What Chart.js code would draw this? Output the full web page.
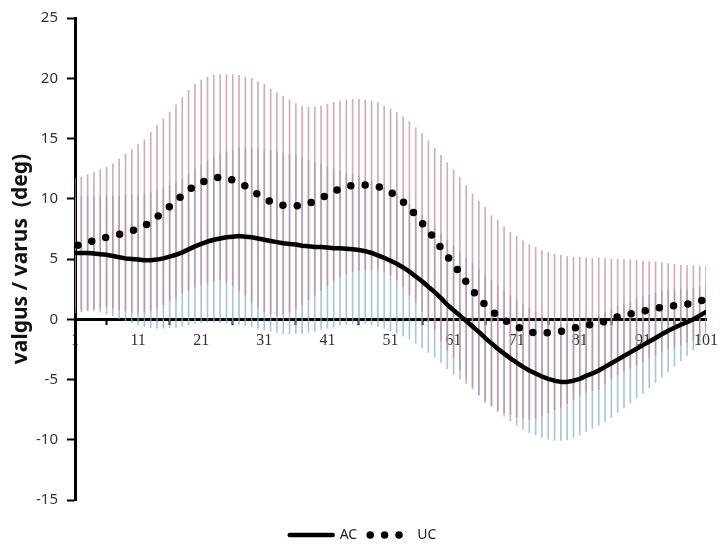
<!DOCTYPE html>
<html>
<head>
<meta charset="utf-8">
<script src="https://cdn.jsdelivr.net/npm/chart.js@4.4.1/dist/chart.umd.min.js"></script>
<style>
  html, body { margin: 0; padding: 0; background: #fff; }
  #caixa { width: 726px; height: 549px; position: relative; }
</style>
</head>
<body>
<div id="caixa"><canvas id="grafico"></canvas></div>
<script>
// % do ciclo (1..101)
const quadros = [];
for (let i = 1; i <= 101; i++) quadros.push(i);

const xTicks = [1, 11, 21, 31, 41, 51, 61, 71, 81, 91, 101];

// AC - media e desvio padrao (graus)
const acMedia = [5.5,5.5,5.5,5.45,5.4,5.35,5.25,5.15,5.05,5.0,
    4.95,4.9,4.9,4.95,5.05,5.2,5.35,5.55,5.8,6.05,
    6.25,6.45,6.6,6.7,6.8,6.85,6.9,6.85,6.8,6.7,
    6.6,6.5,6.4,6.3,6.25,6.2,6.1,6.05,6.0,6.0,
    5.95,5.9,5.9,5.85,5.8,5.75,5.65,5.5,5.3,5.1,
    4.85,4.6,4.3,3.95,3.55,3.15,2.7,2.25,1.75,1.2,
    0.75,0.3,-0.15,-0.6,-1.05,-1.55,-2.0,-2.45,-2.85,-3.25,
    -3.6,-3.95,-4.25,-4.5,-4.75,-4.95,-5.1,-5.2,-5.2,-5.1,
    -4.95,-4.7,-4.5,-4.25,-3.95,-3.65,-3.35,-3.05,-2.75,-2.45,
    -2.15,-1.85,-1.55,-1.25,-0.95,-0.7,-0.45,-0.25,0.0,0.3,
    0.6];
const acDP = [4.6,4.65,4.7,4.75,4.8,4.9,5.0,5.1,5.2,5.3,
    5.4,5.5,5.6,5.7,5.8,5.9,6.0,6.1,6.25,6.4,
    6.55,6.7,6.85,7.0,7.1,7.2,7.3,7.35,7.4,7.45,
    7.5,7.5,7.5,7.5,7.45,7.4,7.3,7.15,7.0,6.85,
    6.7,6.55,6.4,6.3,6.2,6.1,6.0,5.95,5.9,5.85,
    5.8,5.75,5.7,5.6,5.55,5.5,5.45,5.4,5.35,5.3,
    5.3,5.25,5.2,5.2,5.2,5.2,5.2,5.2,5.2,5.2,
    5.2,5.2,5.15,5.1,5.05,5.0,4.95,4.85,4.8,4.7,
    4.65,4.6,4.55,4.55,4.55,4.5,4.4,4.3,4.2,4.1,
    4.0,3.85,3.7,3.55,3.4,3.2,3.0,2.75,2.55,2.35,
    2.2];

// UC - media e desvio padrao (graus)
const ucMedia = [6.1,6.2,6.35,6.55,6.65,6.8,6.9,7.05,7.2,7.35,
    7.5,7.75,8.1,8.5,8.9,9.35,9.8,10.3,10.7,11.1,
    11.35,11.55,11.7,11.8,11.7,11.55,11.3,11.05,10.7,10.35,
    10.05,9.75,9.55,9.45,9.4,9.4,9.45,9.6,9.8,10.05,
    10.3,10.6,10.85,11.0,11.1,11.15,11.15,11.1,11.0,10.85,
    10.55,10.2,9.75,9.2,8.65,8.0,7.3,6.7,5.9,5.2,
    4.6,3.8,3.1,2.4,1.75,1.2,0.7,0.3,-0.05,-0.35,
    -0.6,-0.85,-1.05,-1.12,-1.15,-1.12,-1.05,-1.0,-0.9,-0.75,
    -0.6,-0.5,-0.42,-0.35,-0.15,0.05,0.2,0.3,0.45,0.55,
    0.65,0.78,0.9,1.0,1.07,1.12,1.18,1.25,1.35,1.5,
    1.7];
const ucDP = [5.6,5.6,5.65,5.65,5.75,5.8,6.0,6.25,6.5,6.75,
    7.0,7.15,7.4,7.6,7.7,7.85,8.0,8.1,8.3,8.4,
    8.5,8.55,8.55,8.5,8.6,8.75,8.95,9.05,9.3,9.35,
    9.45,9.35,9.25,9.05,8.8,8.5,8.25,8.0,7.8,7.65,
    7.55,7.4,7.25,7.2,7.15,7.1,7.05,7.0,6.95,6.85,
    6.9,6.95,7.05,7.2,7.25,7.4,7.5,7.5,7.7,7.8,
    7.8,8.0,8.0,8.0,8.05,8.1,7.9,7.9,7.75,7.55,
    7.5,7.35,7.25,7.1,6.85,6.65,6.45,6.3,6.1,5.9,
    5.75,5.6,5.5,5.45,5.2,4.95,4.8,4.65,4.5,4.35,
    4.2,4.0,3.85,3.7,3.55,3.45,3.3,3.2,3.1,2.9,
    2.7];

function pontos(media) {
    return quadros.map((q, i) => ({ x: q, y: media[i] }));
}

function barrasErro(media, dp) {
    return quadros.map((q, i) => ({ x: q, y: [media[i] - dp[i], media[i] + dp[i]] }));
}

// empurra a legenda um pouco para a direita, como no original
const legendaDeslocada = {
    id: 'legendaDeslocada',
    afterLayout(chart) {
        chart.legend.left += 10;
        chart.legend.right += 10;
    }
};

// so AC e UC na legenda, com o tracejado da linha
function itensLegenda(chart) {
    const itens = Chart.defaults.plugins.legend.labels.generateLabels(chart);
    return itens.filter((it) => it.datasetIndex < 2).map((it) => {
        const ds = chart.data.datasets[it.datasetIndex];
        it.lineDash = ds.borderDash || [];
        it.lineDashOffset = ds.borderDashOffset || 0;
        it.lineCap = ds.borderCapStyle || 'butt';
        it.lineWidth = ds.borderWidth;
        return it;
    });
}

function criarGrafico(canvasID) {
    return new Chart(document.getElementById(canvasID), {
        type: 'line',
        plugins: [legendaDeslocada],
        data: {
            datasets: [
                { label: 'AC', data: pontos(acMedia), borderColor: '#000', backgroundColor: '#000',
                  borderWidth: 4.5, borderCapStyle: 'round', borderJoinStyle: 'round',
                  pointRadius: 0, pointStyle: 'line' },
                { label: 'UC', data: pontos(ucMedia), borderColor: '#000', backgroundColor: '#000',
                  borderWidth: 7.5, borderDash: [0, 14.4], borderDashOffset: 11.4, borderCapStyle: 'round',
                  pointRadius: 0, pointStyle: 'line' },
                { type: 'bar', label: 'UC dp', data: barrasErro(ucMedia, ucDP),
                  backgroundColor: 'rgba(195,135,155,0.7)', barThickness: 1, grouped: false },
                { type: 'bar', label: 'AC dp', data: barrasErro(acMedia, acDP),
                  backgroundColor: 'rgba(135,170,205,0.7)', barThickness: 1, grouped: false },
            ]
        },
        options: {
            responsive: true,
            maintainAspectRatio: false,
            animation: false,
            layout: { padding: { top: 16, right: 20, bottom: -3, left: 0 } },
            plugins: {
                tooltip: { enabled: false },
                legend: {
                    position: 'bottom',
                    title: { display: true, text: '', padding: { top: 6, bottom: 0 }, font: { size: 10 } },
                    labels: {
                        usePointStyle: true,
                        pointStyleWidth: 43,
                        padding: 10,
                        color: '#222',
                        font: { family: 'Noto Sans', size: 14 },
                        generateLabels: itensLegenda
                    }
                }
            },
            scales: {
                x: {
                    type: 'linear',
                    min: 1,
                    max: 101,
                    offset: false,
                    position: { y: 0 },
                    afterBuildTicks: (axis) => { axis.ticks = xTicks.map((v) => ({ value: v })); },
                    grid: { drawOnChartArea: false, drawTicks: true, tickLength: 4, tickWidth: 2, tickColor: '#000' },
                    border: { color: '#000', width: 3 },
                    ticks: { autoSkip: false, maxRotation: 0, padding: 8, color: '#333',
                             font: { family: 'Liberation Serif', size: 16 } }
                },
                y: {
                    min: -15,
                    max: 25,
                    afterFit: (axis) => { axis.width = 75; },
                    grid: { drawOnChartArea: false, tickLength: 8, tickWidth: 2, tickColor: '#000' },
                    border: { color: '#000', width: 3 },
                    ticks: { stepSize: 5, padding: 9, color: '#333', font: { family: 'Noto Sans', size: 15 } },
                    title: {
                        display: true,
                        text: 'valgus / varus  (deg)',
                        color: '#111',
                        font: { family: 'Noto Sans', size: 21, weight: 'bold' },
                        padding: { top: 8, bottom: 0 }
                    }
                }
            }
        }
    });
}

const __grafico = criarGrafico('grafico');
</script>
</body>
</html>
